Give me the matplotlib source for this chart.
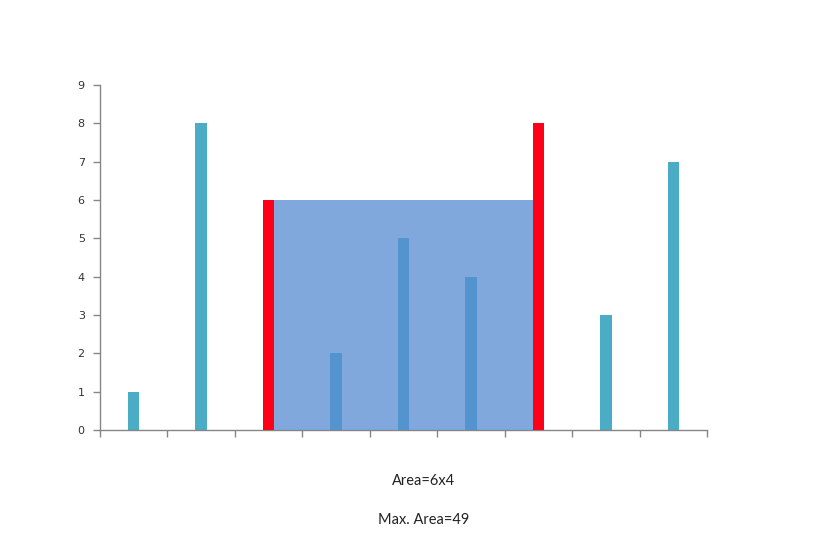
import matplotlib
matplotlib.use("Agg")
import matplotlib.pyplot as plt

# heights of the container walls
heights = [1, 8, 6, 2, 5, 4, 8, 3, 7]
left_idx = 2
right_idx = 6
max_area = 49
yticks = list(range(0, 10))

bar_color = "#4BACC6"
wall_color = "#FF0019"
water_color = "#588DD1"
axis_color = "#868686"
bar_w = 0.17

fig = plt.figure(figsize=(8.31, 5.47), dpi=100)
ax = fig.add_axes([100 / 831, (547 - 430) / 547, 607 / 831, 345 / 547])

x = list(range(len(heights)))
colors = [wall_color if i in (left_idx, right_idx) else bar_color for i in x]
zs = [4 if i in (left_idx, right_idx) else 2 for i in x]

for xi, h, c, z in zip(x, heights, colors, zs):
    ax.bar(xi, h, width=bar_w, color=c, zorder=z, linewidth=0)

# water area between the two red walls
water_h = min(heights[left_idx], heights[right_idx])
water_w = right_idx - left_idx
ax.bar((left_idx + right_idx) / 2, water_h, width=water_w - bar_w,
       color=water_color, alpha=0.76, zorder=3, linewidth=0)

ax.set_xlim(-0.5, len(heights) - 0.5)
ax.set_ylim(0, 9)
ax.set_yticks(yticks)
ax.set_xticks([i - 0.5 for i in range(len(heights) + 1)])
ax.set_xticklabels([])

for s in ["top", "right"]:
    ax.spines[s].set_visible(False)
for s in ["left", "bottom"]:
    ax.spines[s].set_color(axis_color)
    ax.spines[s].set_linewidth(1.0)
ax.tick_params(axis="both", color=axis_color, length=5, width=1,
               labelsize=8, labelcolor="#333333")
ax.tick_params(axis="y", pad=6)

fig.text(424 / 831, 1 - 481 / 547, f"Area={water_h}x{water_w}", ha="center", va="center",
         fontsize=10.5, family="Lato", color="#222222")
fig.text(424 / 831, 1 - 520 / 547, f"Max. Area={max_area}", ha="center", va="center",
         fontsize=10.5, family="Lato", color="#222222")

fig.savefig("out.png", dpi=100)
